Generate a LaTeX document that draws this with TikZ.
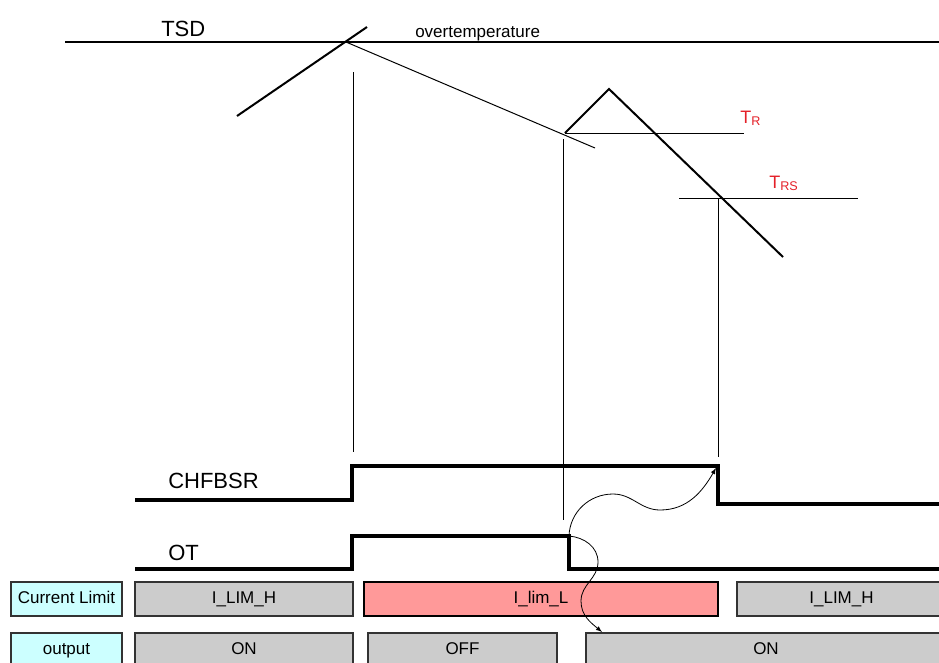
\documentclass[tikz,border=0pt]{standalone}
\usepackage{fontspec}
\setmainfont{Liberation Sans}
\usepackage{xcolor}
\usepackage{tikz}
\usetikzlibrary{positioning}
\usetikzlibrary{arrows}
\definecolor{limpink}{RGB}{255,153,153}
\definecolor{lblcyan}{RGB}{204,255,255}
\definecolor{tred}{RGB}{228,32,40}
\tikzstyle{signal} = [draw,line width=2.5pt]
\tikzstyle{templine} = [draw,line width=1.5pt]
\tikzstyle{thinline} = [draw,line width=0.75pt]
\tikzstyle{cause} = [draw,line width=0.6pt,-latex]
\tikzstyle{signame} = [font=\fontsize{16.5}{18}\selectfont,anchor=base west,inner sep=0pt]
\tikzstyle{thrname} = [font=\fontsize{13.5}{15}\selectfont,text=tred,anchor=base west,inner sep=0pt]
\tikzstyle{blk} = [rectangle,draw=black!80,line width=0.9pt,fill=black!20,minimum height=34*0.75pt,inner sep=0pt,text height=0.716em,text depth=0pt,font=\fontsize{12.75}{14}\selectfont]
\tikzset{rowlabel/.style={blk,fill=lblcyan}}
\tikzset{hotblk/.style={blk,fill=limpink,draw=black,line width=1.6pt}}

\begin{document}
\begin{tikzpicture}[x=0.75pt,y=-0.75pt]
\useasboundingbox (0,0) rectangle (939,662);

 %TSD
 \draw[templine] (65,42) -- (939,42);
 \node[signame] (tsd) at (161,36) {TSD};
 \node[signame,font=\fontsize{12.75}{14}\selectfont] (ovt) at (415,37) {overtemperature};

 \foreach \x/\y/\name in {237/116/rs0, 367/27/rs1, 346/42/cr, 595/148/cl1, 565/133/tri0, 609/89/tri1, 783/257/tri2}
          \coordinate (\name) at (\x,\y);

 \draw[templine] (rs0) -- (rs1);
 \draw[thinline] (cr) -- (cl1);
 \draw[templine] (tri0) -- (tri1) -- (tri2);

 %thresholds
 \foreach \x/\y/\name in {565/133/trL, 744/133/trR, 679/198/trsL, 858/198/trsR}
          \coordinate (\name) at (\x,\y);

 \foreach \source/ \dest in {trL/trR, trsL/trsR}
         \path[thinline] (\source) -- (\dest);

 \node[thrname] (tr) at (740,123) {T\textsubscript{R}};
 \node[thrname] (trs) at (769,188) {T\textsubscript{RS}};

 %markers
 \foreach \x/\y/\name in {353/72/m1t, 353/452/m1b, 563/139/m2t, 563/520/m2b, 718/198/m3t, 718/457/m3b}
          \coordinate (\name) at (\x,\y);

 \foreach \source/ \dest in {m1t/m1b, m2t/m2b, m3t/m3b}
         \path[thinline] (\source) -- (\dest);

 %CHFBSR
 \node[signame] (chf) at (168,488) {CHFBSR};
 \draw[signal] (135,500) -| (352,466) -| (718,504) -- (939,504);

 %OT
 \node[signame] (ot) at (168,560) {OT};
 \draw[signal] (135,569) -| (352,536) -| (569,569) -- (939,569);

 \coordinate (otfall) at (569,536);
 \coordinate (chfall) at (716,468);
 \coordinate (onhit) at (602,632);

 %Current Limit
  \def\dy{599};
 \node[rowlabel,minimum width=111*0.75pt] (cl) at (66.5,\dy) {Current Limit};

   \foreach \xa/\xb/\name/\label in {135/353/climA/I\_LIM\_H, 737/946/climC/I\_LIM\_H}
          \node[blk,minimum width={(\xb-\xa)*0.75pt}] (\name) at ({(\xa+\xb)/2},\dy) {\label};
 \node[hotblk,minimum width=354*0.75pt] (climB) at (541,\dy) {I\_lim\_L};

 %output
  \def\dy{650};
 \node[rowlabel,minimum width=111*0.75pt] (out) at (66.5,\dy) {output};

   \foreach \xa/\xb/\name/\label in {135/353/outA/ON, 368/557/outB/OFF, 586/946/outC/ON}
          \node[blk,minimum width={(\xb-\xa)*0.75pt}] (\name) at ({(\xa+\xb)/2},\dy) {\label};

 %causes
 \draw[cause] (otfall) to[out=88,in=180] (613,494) to[out=0,in=180] (660,510) to[out=0,in=240] (chfall);
 \draw[cause] (otfall) to[out=-5,in=90] (598,562) to[out=-90,in=90] (581,601) to[out=-90,in=140] (onhit);

\end{tikzpicture}
\end{document}
